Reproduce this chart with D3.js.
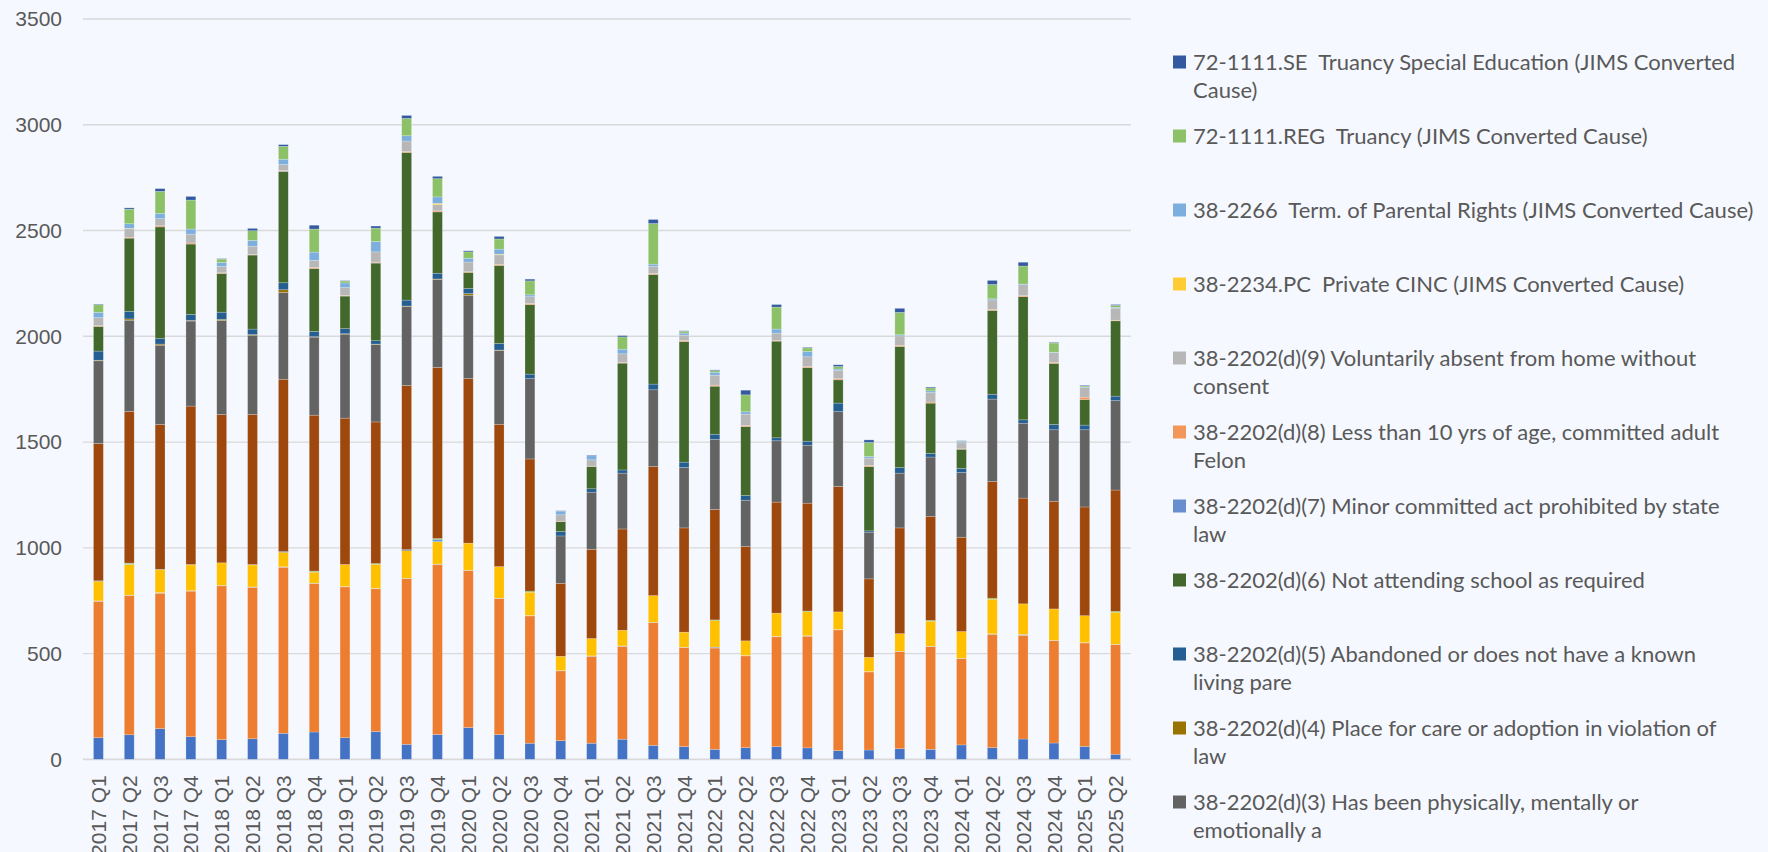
<!DOCTYPE html>
<html>
<head>
<meta charset="utf-8">
<title>CINC filings by cause</title>
<script src="https://d3js.org/d3.v7.min.js"></script>
<style>
  body { margin: 0; background: #f5f8fe; }
  svg { display: block; }
  .axis text { fill: #595959; font: 21px "Liberation Sans", Arial, sans-serif; }
  .legend text { fill: #595959; font: 22px Lato, "Open Sans", sans-serif; white-space: pre; }
</style>
</head>
<body>
<script>
var width = 1768,
    height = 852;

var quarters = [
  "2017 Q1", "2017 Q2", "2017 Q3", "2017 Q4", "2018 Q1", "2018 Q2", "2018 Q3", "2018 Q4",
  "2019 Q1", "2019 Q2", "2019 Q3", "2019 Q4", "2020 Q1", "2020 Q2", "2020 Q3", "2020 Q4",
  "2021 Q1", "2021 Q2", "2021 Q3", "2021 Q4", "2022 Q1", "2022 Q2", "2022 Q3", "2022 Q4",
  "2023 Q1", "2023 Q2", "2023 Q3", "2023 Q4", "2024 Q1", "2024 Q2", "2024 Q3", "2024 Q4",
  "2025 Q1", "2025 Q2"
];

var yTicks = [0, 500, 1000, 1500, 2000, 2500, 3000, 3500];

// one array per cause, bottom of the stack first
var cause1  = [102,116,145,107,93,97,123,129,102,131,71,117,150,117,76,88,76,95,66,60,47,55,60,54,41,44,50,47,68,55,96,77,61,24];
var cause10 = [645,658,640,688,727,716,785,702,713,675,783,804,742,643,602,330,411,439,580,468,479,434,519,528,571,369,459,486,408,536,490,484,489,518];
var cause11 = [2,2,3,2,2,2,2,2,2,2,2,2,2,2,2,2,2,2,2,2,5,2,2,2,2,2,2,2,2,2,5,2,2,2];
var cause12 = [93,146,108,122,107,104,69,52,104,114,131,106,128,149,110,67,82,74,126,71,125,69,110,114,83,67,83,118,126,164,144,148,127,151];
var cause13 = [0,3,0,0,0,0,0,2,0,0,0,10,0,0,0,0,0,0,0,0,0,0,0,0,0,0,0,0,0,0,0,0,0,0];
var cause14 = [0,3,2,2,0,2,0,3,0,4,0,5,0,0,5,0,0,0,0,0,3,0,0,3,0,0,0,4,0,5,0,0,0,5];
var cause15 = [2,0,0,0,0,0,4,0,0,0,5,0,0,0,0,0,0,0,0,0,0,0,0,0,0,0,0,0,0,0,0,0,0,0];
var cause2  = [649,717,685,749,701,709,814,737,692,669,775,809,778,673,625,345,422,479,610,493,523,446,525,510,593,371,500,492,446,551,500,509,514,573];
var cause3  = [391,431,375,402,445,375,410,369,397,366,374,416,394,349,380,224,270,264,363,286,331,219,290,274,354,221,259,280,306,390,354,338,365,423];
var cause4  = [3,6,5,3,5,3,13,2,2,2,2,2,8,2,0,0,0,0,0,0,0,0,0,0,0,0,0,0,0,0,0,0,0,0];
var cause5  = [43,36,26,28,34,26,33,25,24,16,28,27,24,31,21,21,16,15,27,25,24,22,14,19,40,6,26,17,19,23,16,25,22,21];
var cause6  = [116,346,528,333,183,350,526,297,154,367,698,290,76,369,329,47,105,505,518,570,227,326,457,348,110,304,573,238,91,396,582,289,121,356];
var cause7  = [0,0,0,0,0,0,2,0,0,2,0,0,0,0,0,0,0,0,0,0,0,0,0,0,0,0,0,0,0,0,0,0,0,0];
var cause8  = [4,4,5,5,3,3,3,5,3,3,5,5,3,5,5,2,2,3,5,5,5,5,3,5,5,5,5,5,2,5,5,5,11,3];
var cause9  = [38,40,34,42,30,39,28,34,37,48,49,29,46,45,32,30,30,41,33,25,47,54,35,46,39,35,45,45,28,45,52,45,45,57];
var privateCinc = [0,2,0,0,0,0,0,0,0,0,0,6,0,3,0,0,0,0,0,0,0,0,0,0,0,0,0,0,0,0,0,0,0,0];
var parentalRights = [25,22,25,24,19,27,25,39,22,49,25,31,18,24,9,17,19,22,11,10,14,11,19,25,7,8,5,8,5,5,3,3,3,4];
var truancyReg = [36,69,104,137,16,46,61,109,9,63,82,86,30,48,66,0,0,58,192,9,8,80,104,17,12,66,106,14,3,68,85,43,5,9];
var truancySe  = [3,6,13,17,2,11,8,18,2,10,14,11,5,12,8,2,3,6,19,2,3,22,12,3,8,12,19,4,2,19,18,3,3,4];

var series = [cause1, cause10, cause11, cause12, cause13, cause14, cause15, cause2, cause3, cause4,
              cause5, cause6, cause7, cause8, cause9, privateCinc, parentalRights, truancyReg, truancySe];

var seriesNames = [
  "38-2202(d)(1)",
  "38-2202(d)(10)",
  "38-2202(d)(11)",
  "38-2202(d)(12)",
  "38-2202(d)(13)",
  "38-2202(d)(14)",
  "38-2202(d)(15)",
  "38-2202(d)(2)",
  "38-2202(d)(3) Has been physically, mentally or\nemotionally a",
  "38-2202(d)(4) Place for care or adoption in violation of\nlaw",
  "38-2202(d)(5) Abandoned or does not have a known\nliving pare",
  "38-2202(d)(6) Not attending school as required",
  "38-2202(d)(7) Minor committed act prohibited by state\nlaw",
  "38-2202(d)(8) Less than 10 yrs of age, committed adult\nFelon",
  "38-2202(d)(9) Voluntarily absent from home without\nconsent",
  "38-2234.PC  Private CINC (JIMS Converted Cause)",
  "38-2266  Term. of Parental Rights (JIMS Converted Cause)",
  "72-1111.REG  Truancy (JIMS Converted Cause)",
  "72-1111.SE  Truancy Special Education (JIMS Converted\nCause)"
];

var seriesColors = [
  "#4472c4", "#ed7d31", "#a5a5a5", "#ffc000", "#5b9bd5", "#70ad47", "#264478", "#9e480e",
  "#636363", "#997300", "#255e91", "#43682b", "#698ed0", "#f1975a", "#b7b7b7", "#ffcd33",
  "#7cafdd", "#8cc168", "#335aa1"
];

var plotLeft = 83, plotRight = 1131, plotTop = 19, plotBottom = 759.3;

var svg = d3.select("body").append("svg")
    .attr("width", width)
    .attr("height", height);

svg.append("rect")
    .attr("width", width)
    .attr("height", height)
    .attr("fill", "#f5f8fe");

var x = d3.scaleBand()
    .domain(quarters)
    .range([plotLeft, plotRight])
    .paddingInner(0.68)
    .paddingOuter(0.34);

var y = d3.scaleLinear()
    .domain([0, 3500])
    .range([plotBottom, plotTop]);

// gridlines
svg.append("g")
    .selectAll("line")
    .data(yTicks)
    .join("line")
    .attr("x1", plotLeft)
    .attr("x2", plotRight)
    .attr("y1", function(d) { return y(d); })
    .attr("y2", function(d) { return y(d); })
    .attr("stroke", "#d9d9d9")
    .attr("stroke-width", function(d) { return d === 0 ? 1.8 : 1.3; });

var yAxis = svg.append("g")
    .attr("class", "axis")
    .attr("transform", "translate(" + (plotLeft - 21) + ",0)")
    .call(d3.axisLeft(y).tickValues(yTicks).tickFormat(d3.format("d")).tickSize(0).tickPadding(0));
yAxis.select(".domain").remove();

// quarter labels run past the bottom edge, as in the source image
var xAxis = svg.append("g")
    .attr("class", "axis")
    .attr("transform", "translate(0," + (plotBottom + 16) + ")")
    .call(d3.axisBottom(x).tickSize(0).tickPadding(0));
xAxis.select(".domain").remove();
xAxis.selectAll("text")
    .attr("transform", "rotate(-90)")
    .attr("text-anchor", "end")
    .attr("x", 0)
    .attr("y", 0)
    .attr("dy", "0.36em");

// stacked bars
var rows = quarters.map(function(q, i) {
  var row = { quarter: q };
  series.forEach(function(s, k) { row[k] = s[i]; });
  return row;
});

var stacked = d3.stack().keys(d3.range(series.length))(rows);

svg.append("g")
    .selectAll("g")
    .data(stacked)
    .join("g")
    .attr("fill", function(d) { return seriesColors[d.key]; })
    .selectAll("rect")
    .data(function(d) { return d; })
    .join("rect")
    .attr("x", function(d) { return x(d.data.quarter); })
    .attr("width", x.bandwidth())
    .attr("y", function(d) { return y(d[1]); })
    .attr("height", function(d) { return y(d[0]) - y(d[1]); })
    .attr("stroke", "#ffffff")
    .attr("stroke-opacity", 0.35)
    .attr("stroke-width", 0.6);

// legend, last series on top, like Excel
var legendOrder = d3.range(series.length).reverse();
var legendTop = 62, legendStep = 74;

var legend = svg.append("g")
    .attr("class", "legend")
    .selectAll("g")
    .data(legendOrder.filter(function(k, i) { return legendTop + i * legendStep < height; }))
    .join("g")
    .attr("transform", function(k, i) { return "translate(1173," + (legendTop + i * legendStep) + ")"; });

legend.append("rect")
    .attr("x", 0)
    .attr("y", -6.5)
    .attr("width", 13)
    .attr("height", 13)
    .attr("fill", function(k) { return seriesColors[k]; });

legend.append("text")
    .attr("x", 20)
    .attr("y", 0)
    .each(function(k) {
      var lines = seriesNames[k].split("\n");
      var t = d3.select(this);
      lines.forEach(function(line, j) {
        t.append("tspan")
            .attr("x", 20)
            .attr("dy", j === 0 ? "0.36em" : 28)
            .text(line);
      });
    });
</script>
</body>
</html>
